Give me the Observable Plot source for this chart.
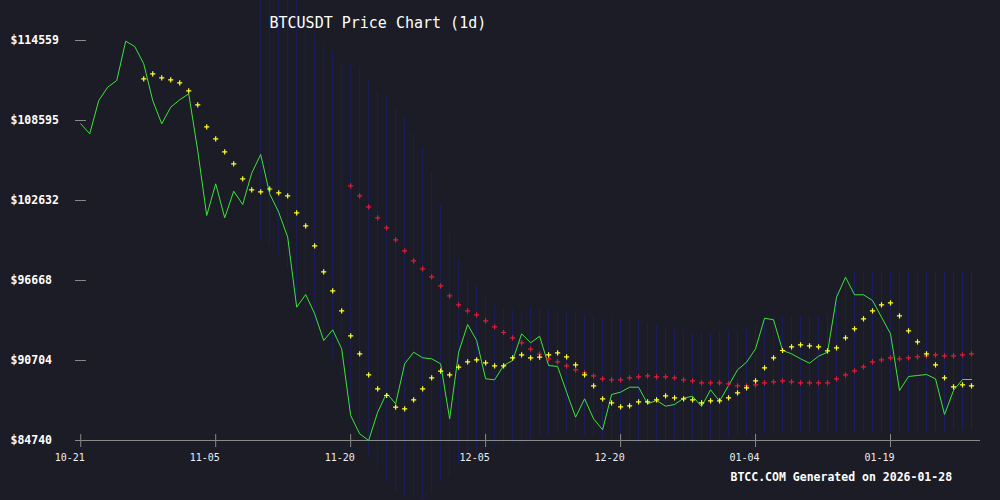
<!DOCTYPE html>
<html><head><meta charset="utf-8">
<script src="https://cdn.jsdelivr.net/npm/d3@7"></script>
<script src="https://cdn.jsdelivr.net/npm/@observablehq/plot@0.6"></script>
<style>html,body{margin:0;padding:0;background:#1b1c25;}</style>
</head><body><div id="chart"></div>
<script>
const dates = [
"2025-10-21","2025-10-22","2025-10-23","2025-10-24","2025-10-25","2025-10-26","2025-10-27","2025-10-28","2025-10-29","2025-10-30",
"2025-10-31","2025-11-01","2025-11-02","2025-11-03","2025-11-04","2025-11-05","2025-11-06","2025-11-07","2025-11-08","2025-11-09",
"2025-11-10","2025-11-11","2025-11-12","2025-11-13","2025-11-14","2025-11-15","2025-11-16","2025-11-17","2025-11-18","2025-11-19",
"2025-11-20","2025-11-21","2025-11-22","2025-11-23","2025-11-24","2025-11-25","2025-11-26","2025-11-27","2025-11-28","2025-11-29",
"2025-11-30","2025-12-01","2025-12-02","2025-12-03","2025-12-04","2025-12-05","2025-12-06","2025-12-07","2025-12-08","2025-12-09",
"2025-12-10","2025-12-11","2025-12-12","2025-12-13","2025-12-14","2025-12-15","2025-12-16","2025-12-17","2025-12-18","2025-12-19",
"2025-12-20","2025-12-21","2025-12-22","2025-12-23","2025-12-24","2025-12-25","2025-12-26","2025-12-27","2025-12-28","2025-12-29",
"2025-12-30","2025-12-31","2026-01-01","2026-01-02","2026-01-03","2026-01-04","2026-01-05","2026-01-06","2026-01-07","2026-01-08",
"2026-01-09","2026-01-10","2026-01-11","2026-01-12","2026-01-13","2026-01-14","2026-01-15","2026-01-16","2026-01-17","2026-01-18",
"2026-01-19","2026-01-20","2026-01-21","2026-01-22","2026-01-23","2026-01-24","2026-01-25","2026-01-26","2026-01-27","2026-01-28"];

const closePrice = [
108349,107604,110086,111078,111577,114507,114112,112822,110086,108349,
109587,110138,110586,106359,101513,103876,101342,103325,102333,104667,
106061,103131,101759,99896,94677,95624,94185,92195,92992,91576,
86604,85240,84740,86850,88266,87476,90458,91323,90905,90831,
90458,86358,91323,93388,92195,89340,89265,90331,90704,92694,
92023,92515,90331,90257,88341,86477,87849,86358,85538,88169,
88341,88713,88713,87476,87722,87297,87424,87893,88043,87275,
88520,87670,88840,90011,90577,91576,93857,93738,91449,91203,
90831,90503,91024,91323,95423,96914,95602,95602,95177,93932,
92694,88467,89511,89586,89660,89340,86678,88467,89287,89287];

const ma7 = [
null,null,null,null,null,null,null,111704,112077,111778,
111629,111406,110809,109766,108126,107231,106262,105367,104249,103429,
103280,103489,103205,102982,101715,100745,99254,97316,95900,94409,
92545,91203,89638,88594,88095,87222,87103,87774,88594,89414,
89906,89638,90204,90607,90756,90532,90309,90309,90905,91129,
90905,90950,91129,91278,90980,90383,89638,88818,87849,87550,
87252,87327,87625,87625,87774,88072,87923,87849,87774,87550,
87700,87700,87923,88296,88669,89190,90160,90905,91449,91725,
91874,91800,91725,91427,91651,92396,93067,93812,94409,94856,
95005,94036,92918,92098,91203,90383,89414,88743,88892,88818];

const ma30 = [
null,null,null,null,null,null,null,null,null,null,
null,null,null,null,null,null,null,null,null,null,
null,null,null,null,null,null,null,null,null,null,
103727,102982,102162,101342,100596,99702,98882,98136,97540,96943,
96272,95527,94856,94409,94111,93663,93216,92791,92396,92023,
91546,91174,90831,90607,90309,90011,89787,89563,89340,89265,
89265,89414,89489,89563,89489,89489,89414,89265,89190,89041,
89041,89041,88967,88818,88818,88892,89041,89116,89190,89116,
89041,89041,89041,89041,89340,89638,89936,90234,90607,90756,
90905,90831,90905,90980,91054,91129,91054,91054,91129,91203];

const bandUpper = [
null,null,null,null,null,null,null,null,null,null,
null,null,null,null,null,null,null,null,null,null,
117914,117914,117914,117914,117914,116200,115050,114410,113740,113070,
112850,112621,111577,110757,110384,109490,108819,107626,106582,104793,
102259,100246,98233,96742,96295,95475,94804,94580,94431,94431,
94655,94655,94431,94282,94282,94208,94133,94058,93835,93835,
93686,93686,93686,93537,93313,93164,93164,92940,92717,92717,
92717,92940,92940,92940,93089,93313,93835,93984,93984,93984,
93984,93984,93984,94133,95773,97264,97264,97264,97264,97264,
97264,97264,97264,97264,97264,97264,97264,97264,97264,97264];

const bandLower = [
null,null,null,null,null,null,null,null,null,null,
null,null,null,null,null,null,null,null,null,null,
99724,99277,98531,97562,95549,94431,93238,91822,90704,89287,
87126,85187,83622,82504,81609,80789,80416,80342,80342,80714,
81684,81982,82951,83845,83995,84218,84367,84367,84516,84442,
84740,84964,85113,85262,85336,85262,85113,84964,84740,84665,
84591,84591,84516,84516,84516,84516,84442,84442,84442,84516,
84591,84740,84889,85038,85113,85187,85262,85336,85336,85336,
85336,85336,85336,85336,85336,85336,85336,85336,85336,85336,
85336,85336,85336,85336,85336,85336,85336,85485,85485,85485];

const yTicks = [84740, 90704, 96668, 102632, 108595, 114559];
const xTickDates = ["2025-10-21","2025-11-05","2025-11-20","2025-12-05","2025-12-20","2026-01-04","2026-01-19"];
const titleText = "BTCUSDT Price Chart (1d)";
const footerText = "BTCC.COM Generated on 2026-01-28";

const rows = dates.map((d, i) => ({
  date: new Date(d + "T00:00:00Z"),
  close: closePrice[i], ma7: ma7[i], ma30: ma30[i],
  upper: bandUpper[i], lower: bandLower[i]
}));
const xTicks = xTickDates.map(d => new Date(d + "T00:00:00Z"));
const fmt = d3.utcFormat("%m-%d");
const mono = "'DejaVu Sans Mono', 'Liberation Mono', monospace";
const bg = "#1b1c25";

const chart = Plot.plot({
  width: 1000, height: 500,
  marginLeft: 75, marginRight: 20, marginTop: 40, marginBottom: 60,
  style: {background: bg, overflow: "hidden"},
  x: {type: "utc", domain: [new Date("2025-10-20T10:00:00Z"), new Date("2026-01-29T00:00:00Z")], axis: null},
  y: {domain: [yTicks[0], yTicks[yTicks.length - 1]], axis: null},
  marks: [
    Plot.ruleX(rows, {filter: d => d.upper != null, x: "date", y1: "lower", y2: "upper", stroke: "#1b1f60", strokeWidth: 1}),
    Plot.ruleY([yTicks[0]], {stroke: "#8a8a8a", strokeWidth: 1}),
    Plot.tickY(yTicks, {y: d => d, stroke: "#8a8a8a", strokeWidth: 1, insetRight: 894}),
    Plot.tickX(xTicks, {x: d => d, stroke: "#8a8a8a", strokeWidth: 1, insetTop: 394, insetBottom: -7}),
    Plot.text(yTicks, {y: d => d, text: d => "$" + d, frameAnchor: "left", textAnchor: "start", dx: -65,
      fill: "#ffffff", fontFamily: mono, fontWeight: "bold", fontSize: 11.5}),
    Plot.text(xTicks, {x: d => d, text: d => fmt(d), frameAnchor: "bottom", lineAnchor: "middle", dx: -11, dy: 17,
      fill: "#eeeeee", fontFamily: mono, fontSize: 10}),
    Plot.line(rows, {x: "date", y: "close", stroke: "#3ce43c", strokeWidth: 1}),
    Plot.dot(rows, {filter: d => d.ma30 != null, x: "date", y: "ma30", symbol: "plus", r: 1.8, stroke: "#dc1e3c", strokeWidth: 1.2}),
    Plot.dot(rows, {filter: d => d.ma7 != null, x: "date", y: "ma7", symbol: "plus", r: 1.8, stroke: "#ffff33", strokeWidth: 1.2}),
    Plot.text([titleText], {frameAnchor: "top-left", lineAnchor: "middle", textAnchor: "start", dx: 194, dy: -17,
      fill: "#ffffff", fontFamily: mono, fontSize: 15}),
    Plot.text([footerText], {frameAnchor: "bottom-left", lineAnchor: "middle", textAnchor: "start", dx: 655, dy: 37,
      fill: "#ffffff", fontFamily: mono, fontWeight: "bold", fontSize: 11.5})
  ]
});
document.getElementById("chart").appendChild(chart);
</script>
</body></html>
